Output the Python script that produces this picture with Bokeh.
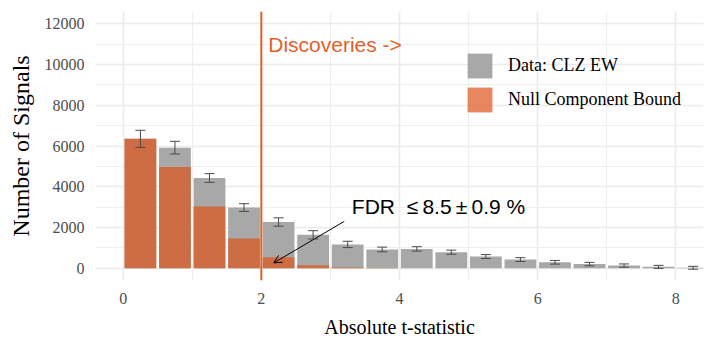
from bokeh.plotting import figure
from bokeh.models import (Range1d, FixedTicker, ColumnDataSource, Whisker, TeeHead,
                          Span, Label, Arrow, OpenHead, Legend, LegendItem)
from bokeh.embed import file_html
from bokeh.resources import INLINE

# ---- data ----
bin_mid = [0.25, 0.75, 1.25, 1.75, 2.25, 2.75, 3.25, 3.75, 4.25, 4.75,
           5.25, 5.75, 6.25, 6.75, 7.25, 7.75, 8.25]
data_counts = [6350, 5920, 4430, 2980, 2270, 1640, 1170, 925, 950, 790,
               575, 427, 294, 205, 132, 69, 25]
null_counts = [6350, 4975, 3030, 1460, 540, 150, 40, 8, 2, 0,
               0, 0, 0, 0, 0, 0, 0]
data_err = [420, 310, 215, 190, 205, 205, 155, 115, 110, 100,
            95, 95, 90, 85, 80, 75, 70]
x_ticks = [0, 2, 4, 6, 8]
x_minor = [1, 3, 5, 7]
y_ticks = [0, 2000, 4000, 6000, 8000, 10000, 12000]
y_minor = [1000, 3000, 5000, 7000, 9000, 11000]
bin_width = 0.46
cutoff = 2.0
fdr_text = "FDR\u00a0\u00a0\u2264\u20098.5\u2009\u00b1\u20090.9\u00a0%"

src = ColumnDataSource(dict(
    x=bin_mid, data=data_counts, null=null_counts,
    lo=[d - e for d, e in zip(data_counts, data_err)],
    hi=[d + e for d, e in zip(data_counts, data_err)],
))

p = figure(frame_width=608, frame_height=269,
           x_range=Range1d(-0.4, 8.4), y_range=Range1d(-600, 12600),
           output_backend="svg", toolbar_location=None,
           min_border_left=95, min_border_right=3, min_border_top=11, min_border_bottom=64)
p.outline_line_color = None
p.background_fill_color = "white"

gray = "#A8A8A8"
orange = "#DE541A"
line_orange = "#E0622A"

r_data = p.vbar(x="x", top="data", width=bin_width, source=src, fill_color=gray,
                line_color=None)
r_null = p.vbar(x="x", top="null", width=bin_width, source=src, fill_color=orange,
                fill_alpha=0.7, line_color=None)

wh = Whisker(base="x", lower="lo", upper="hi", source=src, line_color="#4a4a4a", line_width=1,
             level="overlay",
             lower_head=TeeHead(size=10, line_color="#4a4a4a", line_width=1),
             upper_head=TeeHead(size=10, line_color="#4a4a4a", line_width=1))
p.add_layout(wh)

p.add_layout(Span(location=cutoff, dimension="height", line_color=line_orange, line_width=2))

p.add_layout(Label(x=2.1, y=10970, text="Discoveries ->", text_font="Liberation Sans",
                   text_font_size="21px", text_color=line_orange, text_baseline="middle"))
p.add_layout(Label(x=3.31, y=3030, text=fdr_text, text_font="Liberation Sans",
                   text_font_size="21px", text_color="black", text_baseline="middle"))
p.add_layout(Arrow(end=OpenHead(size=8, line_width=1, line_color="black"),
                   x_start=3.2, y_start=2300, x_end=2.18, y_end=265,
                   line_color="black", line_width=1))

# axes
p.xaxis.ticker = FixedTicker(ticks=x_ticks, minor_ticks=x_minor)
p.yaxis.ticker = FixedTicker(ticks=y_ticks, minor_ticks=y_minor)
for ax in (p.xaxis[0], p.yaxis[0]):
    ax.axis_line_color = None
    ax.major_tick_line_color = None
    ax.minor_tick_line_color = None
    ax.major_tick_out = 0
    ax.major_tick_in = 0
    ax.minor_tick_out = 0
    ax.major_label_text_font = "Liberation Serif"
    ax.major_label_text_font_size = "16px"
    ax.major_label_text_color = "#4D4D4D"
    ax.axis_label_text_font = "Liberation Serif"
    ax.axis_label_text_font_style = "normal"
    ax.axis_label_text_color = "black"
p.xaxis.axis_label = "Absolute t-statistic"
p.yaxis.axis_label = "Number of Signals"
p.xaxis.axis_label_text_font_size = "20px"
p.yaxis.axis_label_text_font_size = "24px"
p.xaxis.major_label_standoff = 12
p.xaxis.axis_label_standoff = 9
p.yaxis.major_label_standoff = 11
p.yaxis.axis_label_standoff = 8

for g in (p.xgrid[0], p.ygrid[0]):
    g.grid_line_color = "#EBEBEB"
    g.grid_line_width = 1.6
    g.minor_grid_line_color = "#EFEFEF"
    g.minor_grid_line_width = 1

legend = Legend(items=[LegendItem(label="Data: CLZ EW", renderers=[r_data]),
                       LegendItem(label="Null Component Bound", renderers=[r_null])],
                location=(369, 165), orientation="vertical")
legend.padding = 0
legend.margin = 0
legend.spacing = 3
legend.glyph_width = 31
legend.glyph_height = 31
legend.label_standoff = 13
legend.label_text_font = "Liberation Serif"
legend.label_text_font_size = "18px"
legend.label_text_color = "black"
legend.background_fill_alpha = 0
legend.border_line_color = None
p.add_layout(legend, "center")

open("out.html", "w").write(file_html(p, INLINE))
